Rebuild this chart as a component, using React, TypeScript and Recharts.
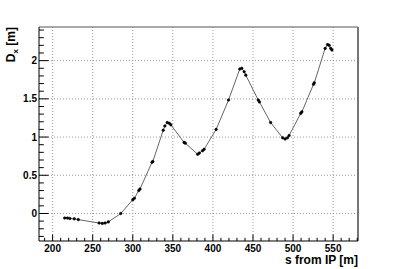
import { LineChart, Line, XAxis, YAxis, ReferenceLine, Label } from "recharts";

const S_POS = [
  215, 218.5, 221.5, 227, 232, 258, 262, 265.5, 269.5, 285, 300, 302, 307.5,
  309, 324, 325, 338, 340, 343, 345.5, 347.5, 364, 365.5, 381, 383, 387, 389,
  404, 419.5, 433.5, 436, 439, 441, 456.5, 458, 472, 487, 490, 493, 495, 509.5,
  511, 525.5, 526.5, 540, 543, 545, 547, 548.5,
];
const DX = [
  -0.06, -0.06, -0.065, -0.07, -0.08, -0.125, -0.13, -0.125, -0.11, 0.0, 0.18,
  0.2, 0.3, 0.32, 0.67, 0.68, 1.09, 1.145, 1.19, 1.18, 1.16, 0.93, 0.92, 0.775,
  0.79, 0.82, 0.84, 1.1, 1.485, 1.89, 1.9, 1.855, 1.81, 1.485, 1.46, 1.19, 0.99,
  0.975, 0.99, 1.02, 1.31, 1.33, 1.69, 1.71, 2.16, 2.21, 2.2, 2.16, 2.14,
];

const X_TICKS = [
  190, 200, 210, 220, 230, 240, 250, 260, 270, 280, 290, 300, 310, 320, 330,
  340, 350, 360, 370, 380, 390, 400, 410, 420, 430, 440, 450, 460, 470, 480,
  490, 500, 510, 520, 530, 540, 550, 560, 570, 580,
];
const X_LABELS = [200, 250, 300, 350, 400, 450, 500, 550];
const Y_TICKS = [
  -0.3, -0.2, -0.1, 0, 0.1, 0.2, 0.3, 0.4, 0.5, 0.6, 0.7, 0.8, 0.9, 1, 1.1,
  1.2, 1.3, 1.4, 1.5, 1.6, 1.7, 1.8, 1.9, 2, 2.1, 2.2, 2.3, 2.4,
];
const Y_LABELS = [0, 0.5, 1, 1.5, 2];

const X_DOMAIN = [183, 581];
const Y_DOMAIN = [-0.36, 2.44];

const data = S_POS.map((s, i) => ({ s, dx: DX[i] }));

const FONT = "'Liberation Sans', Arial, Helvetica, sans-serif";

const isLabel = (list: number[], v: number) =>
  list.some((l) => Math.abs(l - v) < 1e-6);

function XTick(props: any) {
  const { x, y, payload } = props;
  const major = isLabel(X_LABELS, payload.value);
  return (
    <g>
      <line x1={x} x2={x} y1={y} y2={y - (major ? 6.5 : 3.2)} stroke="#000" />
      {major && (
        <text
          x={x}
          y={y + 10.5}
          textAnchor="middle"
          fontSize={10}
          fontWeight="bold"
          fontFamily={FONT}
          fill="#000"
        >
          {payload.value}
        </text>
      )}
    </g>
  );
}

function YTick(props: any) {
  const { x, y, payload } = props;
  const major = isLabel(Y_LABELS, payload.value);
  return (
    <g>
      <line x1={x} x2={x + (major ? 9.6 : 4.8)} y1={y} y2={y} stroke="#000" />
      {major && (
        <text
          x={x - 2}
          y={y + 3.5}
          textAnchor="end"
          fontSize={10}
          fontWeight="bold"
          fontFamily={FONT}
          fill="#000"
        >
          {payload.value}
        </text>
      )}
    </g>
  );
}

export default function App() {
  return (
    <div style={{ position: "absolute", left: 0, top: 0, background: "#fff" }}>
      <LineChart
        width={399}
        height={269}
        data={data}
        margin={{ top: 27, right: 41, bottom: 0, left: 0 }}
      >
        <XAxis
          dataKey="s"
          type="number"
          domain={X_DOMAIN}
          ticks={X_TICKS}
          interval={0}
          allowDataOverflow
          height={28}
          tickSize={0}
          tickMargin={0}
          tick={XTick}
          axisLine={{ stroke: "#000" }}
        >
          <Label
            content={({ viewBox }: any) => (
              <text
                x={viewBox.x + viewBox.width}
                y={viewBox.y + 23}
                textAnchor="end"
                fontSize={12}
                fontWeight="bold"
                fontFamily={FONT}
                fill="#000"
              >
                s from IP [m]
              </text>
            )}
          />
        </XAxis>
        <YAxis
          type="number"
          domain={Y_DOMAIN}
          ticks={Y_TICKS}
          interval={0}
          allowDataOverflow
          width={39}
          tickSize={0}
          tickMargin={0}
          tick={YTick}
          axisLine={{ stroke: "#000" }}
        >
          <Label
            content={({ viewBox }: any) => (
              <text
                x={15}
                y={viewBox.y}
                transform={`rotate(-90 15 ${viewBox.y})`}
                textAnchor="end"
                fontSize={12}
                fontWeight="bold"
                fontFamily={FONT}
                fill="#000"
              >
                <tspan>D</tspan>
                <tspan dy={3} fontSize={8}>
                  x
                </tspan>
                <tspan dy={-3}> [m]</tspan>
              </text>
            )}
          />
        </YAxis>

        {/* dotted grid at the labelled ticks */}
        {X_LABELS.map((v) => (
          <ReferenceLine
            key={`gx${v}`}
            x={v}
            stroke="#999"
            strokeDasharray="1 2"
          />
        ))}
        {Y_LABELS.map((v) => (
          <ReferenceLine
            key={`gy${v}`}
            y={v}
            stroke="#999"
            strokeDasharray="1 2"
          />
        ))}

        {/* frame */}
        <ReferenceLine y={Y_DOMAIN[1]} stroke="#555" />
        <ReferenceLine x={X_DOMAIN[1]} stroke="#777" strokeWidth={2} />

        <Line
          dataKey="dx"
          type="linear"
          stroke="#666"
          strokeWidth={1}
          dot={{ r: 1.3, fill: "#000", stroke: "#000", strokeWidth: 0.5 }}
          isAnimationActive={false}
        />
      </LineChart>
    </div>
  );
}
